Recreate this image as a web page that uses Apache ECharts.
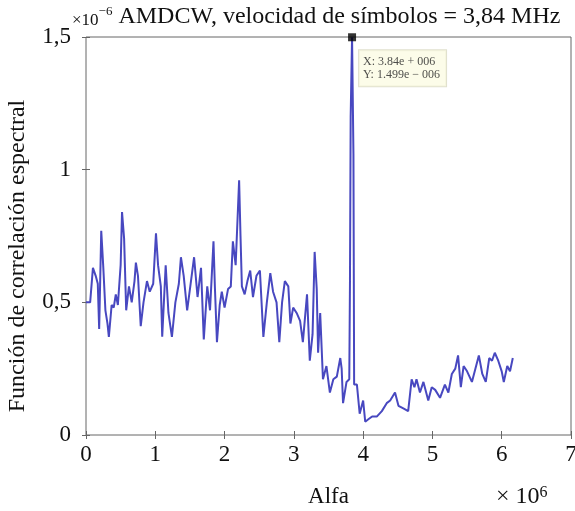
<!DOCTYPE html>
<html><head><meta charset="utf-8">
<script src="https://cdn.jsdelivr.net/npm/echarts@6/dist/echarts.min.js"></script>
<style>html,body{margin:0;padding:0;background:#fff}#c{width:575px;height:511px}</style>
</head><body><div id="c"></div>
<script>
// Alfa in units of 10^6
const alpha = [0.00,0.06,0.10,0.14,0.17,0.19,0.22,0.25,0.28,0.31,0.33,0.37,0.40,0.43,0.46,0.50,0.52,0.55,0.58,0.62,0.66,0.70,0.72,0.75,0.79,0.83,0.88,0.92,0.97,1.01,1.04,1.08,1.10,1.15,1.19,1.24,1.29,1.34,1.37,1.41,1.46,1.51,1.56,1.61,1.66,1.70,1.75,1.79,1.84,1.86,1.89,1.93,1.96,2.00,2.05,2.09,2.12,2.16,2.21,2.23,2.25,2.29,2.33,2.37,2.41,2.46,2.51,2.56,2.61,2.66,2.70,2.75,2.79,2.83,2.87,2.92,2.95,2.99,3.04,3.09,3.13,3.19,3.23,3.27,3.30,3.33,3.35,3.38,3.42,3.47,3.52,3.57,3.62,3.67,3.69,3.71,3.76,3.80,3.81,3.82,3.84,3.86,3.87,3.91,3.95,4.00,4.03,4.08,4.13,4.20,4.27,4.34,4.39,4.46,4.51,4.58,4.65,4.70,4.74,4.77,4.82,4.87,4.94,4.99,5.04,5.11,5.18,5.23,5.28,5.33,5.37,5.41,5.45,5.50,5.57,5.62,5.67,5.72,5.77,5.82,5.86,5.90,5.95,6.00,6.03,6.08,6.12,6.16];
// spectral correlation in units of 10^-6
const corr = [0.50,0.50,0.63,0.60,0.57,0.40,0.77,0.63,0.47,0.42,0.37,0.49,0.48,0.53,0.49,0.64,0.84,0.74,0.47,0.56,0.50,0.58,0.65,0.60,0.41,0.50,0.58,0.54,0.57,0.76,0.64,0.56,0.37,0.64,0.46,0.37,0.50,0.57,0.67,0.60,0.47,0.57,0.67,0.52,0.63,0.36,0.56,0.47,0.73,0.56,0.35,0.49,0.54,0.48,0.55,0.56,0.73,0.64,0.96,0.75,0.56,0.53,0.58,0.62,0.52,0.60,0.62,0.37,0.50,0.61,0.54,0.50,0.35,0.50,0.58,0.56,0.42,0.48,0.46,0.43,0.35,0.53,0.28,0.38,0.69,0.55,0.31,0.46,0.21,0.26,0.16,0.21,0.22,0.29,0.25,0.12,0.20,0.21,0.58,1.20,1.499,1.06,0.19,0.19,0.08,0.13,0.05,0.06,0.07,0.07,0.09,0.12,0.13,0.16,0.11,0.10,0.09,0.21,0.18,0.21,0.16,0.20,0.13,0.18,0.17,0.14,0.19,0.16,0.23,0.25,0.30,0.18,0.26,0.24,0.20,0.25,0.30,0.23,0.20,0.29,0.28,0.31,0.28,0.24,0.20,0.26,0.24,0.29];
const xTicks = [0,1,2,3,4,5,6,7];
const yTicks = ['0','0,5','1','1,5'];
const peak = [3.84, 1.499];

const serif = '"Liberation Serif","DejaVu Serif",serif';
const chart = echarts.init(document.getElementById('c'), null, {renderer:'canvas'});
const axisCommon = {
  axisLine:{show:false},
  axisTick:{show:true, inside:true, length:4, lineStyle:{color:'#666'}},
  splitLine:{show:false}
};
chart.setOption({
  animation:false,
  grid:{left:86, right:4, top:37, bottom:76, show:true, borderColor:'#666', borderWidth:1,
        containLabel:false, outerBoundsMode:'none'},
  title:{
    text:'{s|×10}{sup|−6}{m| AMDCW, velocidad de símbolos = 3,84 MHz}',
    left:67, top:0,
    textStyle:{fontWeight:'normal', rich:{
      s:{fontFamily:serif, fontSize:17, fontWeight:'normal', color:'#111', verticalAlign:'bottom'},
      sup:{fontFamily:serif, fontSize:13, fontWeight:'normal', color:'#111', verticalAlign:'top'},
      m:{fontFamily:serif, fontSize:24, fontWeight:'normal', color:'#111'}
    }}
  },
  xAxis:[{
    type:'value', min:0, max:7, interval:1,
    ...axisCommon,
    axisLabel:{fontFamily:serif, fontSize:23, color:'#111', margin:8,
      formatter:v=>String(xTicks[Math.round(v)])},
    name:'Alfa', nameLocation:'middle', nameGap:50,
    nameTextStyle:{fontFamily:serif, fontSize:23, color:'#111'}
  },{
    type:'value', min:0, max:7, interval:1, position:'top',
    ...axisCommon, axisLabel:{show:false}
  }],
  yAxis:[{
    type:'value', min:0, max:1.5, interval:0.5,
    ...axisCommon,
    axisLabel:{fontFamily:serif, fontSize:23, color:'#111', margin:15,
      formatter:v=>yTicks[Math.round(v*2)]},
    name:'Función de correlación espectral', nameLocation:'middle', nameGap:56,
    nameTextStyle:{fontFamily:serif, fontSize:24, color:'#111', padding:[0,40,0,0]}
  },{
    type:'value', min:0, max:1.5, interval:0.5, position:'right',
    ...axisCommon, axisLabel:{show:false}
  }],
  graphic:[{
    type:'text', left:496, top:485,
    style:{text:'× 10{sup|6}', rich:{sup:{fontSize:16, verticalAlign:'top', fontFamily:serif, fill:'#111'}},
      font:'24px '+serif, fill:'#111'}
  }],
  series:[{
    type:'line', data:alpha.map((a,i)=>[a,corr[i]]),
    showSymbol:false, symbol:'none',
    lineStyle:{color:'#4848c0', width:2},
    z:2
  },{
    type:'scatter', data:[peak], symbol:'rect', symbolSize:8,
    itemStyle:{color:'#000'}, z:5,
    label:{show:true, position:'right', offset:[-2,31],
      formatter:'X: 3.84e + 006\nY: 1.499e − 006',
      fontFamily:serif, fontSize:12, lineHeight:13, color:'#222',
      backgroundColor:'#fbfbe4', borderColor:'#d8d8c0', borderWidth:1, padding:[5,6,5,4]}
  }]
});
</script></body></html>
